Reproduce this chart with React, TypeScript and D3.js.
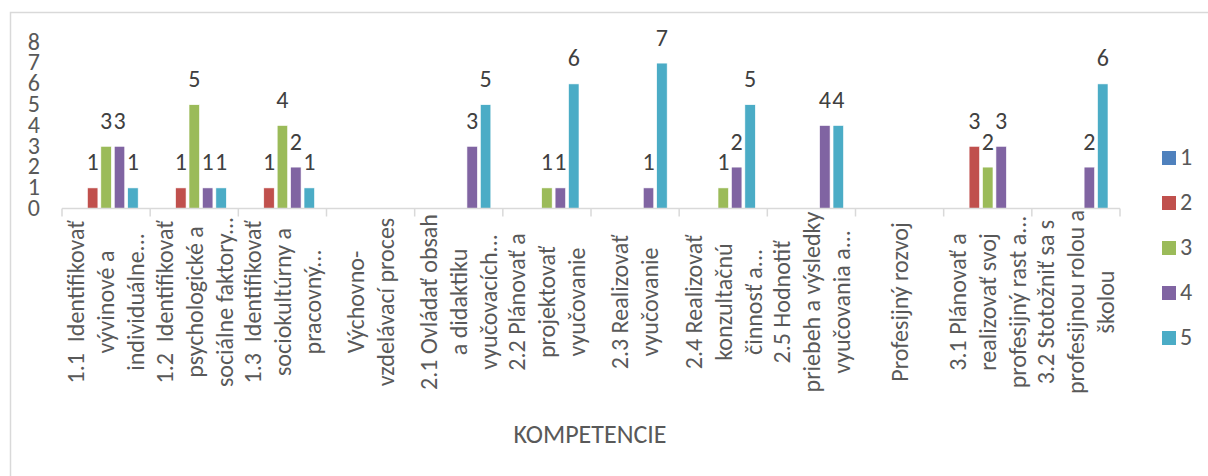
import React, { useEffect, useRef } from "react";
import * as d3 from "d3";

const categoryLabels: string[][] = [
  ["1.1  Identifikovať", "vývinové a", "individuálne..."],
  ["1.2  Identifikovať", "psychologické a", "sociálne faktory..."],
  ["1.3  Identifikovať", "sociokultúrny a", "pracovný..."],
  ["Výchovno-", "vzdelávací proces"],
  ["2.1 Ovládať obsah", "a didaktiku", "vyučovacích..."],
  ["2.2 Plánovať a", "projektovať", "vyučovanie"],
  ["2.3 Realizovať", "vyučovanie"],
  ["2.4 Realizovať", "konzultačnú", "činnosť a..."],
  ["2.5 Hodnotiť", "priebeh a výsledky", "vyučovania a..."],
  ["Profesijný rozvoj"],
  ["3.1 Plánovať a", "realizovať svoj", "profesijný rast a..."],
  ["3.2 Stotožniť sa s", "profesijnou rolou a", "školou"],
];

const seriesNames = ["1", "2", "3", "4", "5"];
const seriesColors = ["#4f81bd", "#c0504d", "#9bbb59", "#8064a2", "#4bacc6"];

const series1: (number | null)[] = [null, null, null, null, null, null, null, null, null, null, null, null];
const series2: (number | null)[] = [1, 1, 1, null, null, null, null, null, null, null, 3, null];
const series3: (number | null)[] = [3, 5, 4, null, null, 1, null, 1, null, null, 2, null];
const series4: (number | null)[] = [3, 1, 2, null, 3, 1, 1, 2, 4, null, 3, 2];
const series5: (number | null)[] = [1, 1, 1, null, 5, 6, 7, 5, 4, null, null, 6];

const yTicks = [0, 1, 2, 3, 4, 5, 6, 7, 8];
const axisTitle = "KOMPETENCIE";

const FONT = "Carlito, Calibri, Lato, sans-serif";

export default function App() {
  const svgRef = useRef<SVGSVGElement>(null);

  useEffect(() => {
    document.body.style.margin = "0";
    const width = 1208;
    const height = 476;
    const svg = d3.select(svgRef.current).attr("width", width).attr("height", height);
    svg.selectAll("*").remove();

    const allSeries = [series1, series2, series3, series4, series5];

    // chart frame
    svg
      .append("rect")
      .attr("x", 10.5)
      .attr("y", 12.5)
      .attr("width", 1220)
      .attr("height", 480)
      .attr("fill", "white")
      .attr("stroke", "#d9d9d9")
      .attr("stroke-width", 1.5);

    const x0 = d3
      .scaleBand<number>()
      .domain(categoryLabels.map((d, i) => i))
      .range([62, 1120])
      .padding(0);

    const x1 = d3
      .scaleBand<number>()
      .domain(seriesNames.map((d, i) => i))
      .range([12, x0.bandwidth() - 12])
      .paddingInner(0.22)
      .paddingOuter(0);

    const y = d3.scaleLinear().domain([0, 8]).range([208.7, 42.3]);

    // y tick labels
    svg
      .append("g")
      .selectAll("text")
      .data(yTicks)
      .enter()
      .append("text")
      .attr("x", 40)
      .attr("y", (d) => y(d) + 7.2)
      .attr("text-anchor", "end")
      .style("font-family", FONT)
      .style("font-size", "24px")
      .style("fill", "#595959")
      .text((d) => d);

    // bars + data labels
    const groups = svg
      .append("g")
      .selectAll("g")
      .data(categoryLabels)
      .enter()
      .append("g")
      .attr("transform", (d, i) => `translate(${x0(i)},0)`);

    groups.each(function (_, ci) {
      const g = d3.select(this);
      allSeries.forEach((vals, si) => {
        const v = vals[ci];
        if (v == null) return;
        g.append("rect")
          .attr("x", x1(si)!)
          .attr("width", x1.bandwidth())
          .attr("y", y(v))
          .attr("height", y(0) - y(v))
          .attr("fill", seriesColors[si])
          .attr("stroke", "white")
          .attr("stroke-width", 0.6);
        g.append("text")
          .attr("x", x1(si)! + x1.bandwidth() / 2)
          .attr("y", y(v) - 17.5)
          .attr("text-anchor", "middle")
          .style("font-family", FONT)
          .style("font-size", "24px")
          .style("fill", "#404040")
          .text(v);
      });
    });

    // x axis
    const axis = svg.append("g");
    axis
      .append("line")
      .attr("x1", 62)
      .attr("x2", 1120)
      .attr("y1", 208.5)
      .attr("y2", 208.5)
      .attr("stroke", "#d9d9d9")
      .attr("stroke-width", 1.5);
    const boundaries = categoryLabels.map((d, i) => x0(i)!).concat([x0.range()[1]]);
    axis
      .selectAll(".tick")
      .data(boundaries)
      .enter()
      .append("line")
      .attr("class", "tick")
      .attr("x1", (d) => d)
      .attr("x2", (d) => d)
      .attr("y1", 208.5)
      .attr("y2", 216.5)
      .attr("stroke", "#d9d9d9")
      .attr("stroke-width", 1.5);

    // category labels, rotated
    const lineGap = 30;
    categoryLabels.forEach((lines, ci) => {
      const cx = x0(ci)! + x0.bandwidth() / 2;
      lines.forEach((line, li) => {
        const lx = cx + (li - (lines.length - 1) / 2) * lineGap;
        svg
          .append("text")
          .attr("transform", `translate(${lx},302) rotate(-90)`)
          .attr("dy", "0.35em")
          .attr("text-anchor", "middle")
          .style("font-family", FONT)
          .style("font-size", "24px")
          .style("fill", "#595959")
          .style("white-space", "pre")
          .text(line);
      });
    });

    // axis title
    svg
      .append("text")
      .attr("x", 590)
      .attr("y", 443)
      .attr("text-anchor", "middle")
      .style("font-family", FONT)
      .style("font-size", "26px")
      .style("fill", "#595959")
      .text(axisTitle);

    // legend
    const legend = svg
      .append("g")
      .selectAll("g")
      .data(seriesNames)
      .enter()
      .append("g")
      .attr("transform", (d, i) => `translate(1162,${158 + i * 45})`);
    legend
      .append("rect")
      .attr("x", 0)
      .attr("y", -7)
      .attr("width", 14)
      .attr("height", 14)
      .attr("fill", (d, i) => seriesColors[i]);
    legend
      .append("text")
      .attr("x", 18)
      .attr("y", 7)
      .style("font-family", FONT)
      .style("font-size", "24px")
      .style("fill", "#595959")
      .text((d) => d);
  }, []);

  return <svg ref={svgRef} style={{ display: "block" }}></svg>;
}
